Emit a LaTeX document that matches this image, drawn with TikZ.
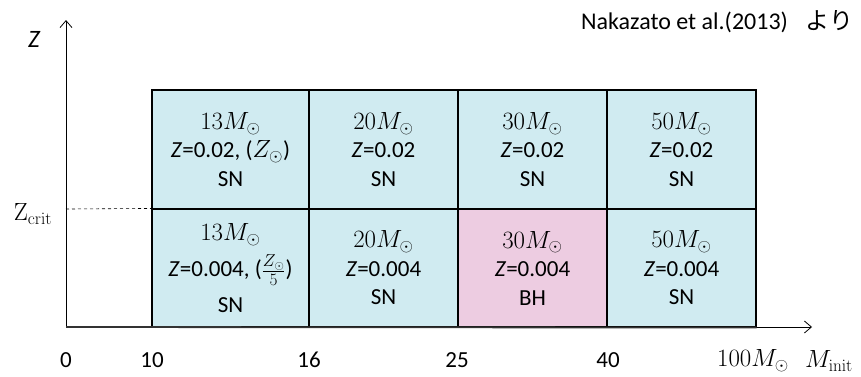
\documentclass[tikz,border=0pt]{standalone}
\usepackage[no-math]{fontspec}
\setmainfont{Carlito}
\newfontfamily\jpfont{Noto Sans CJK JP}
\usetikzlibrary{arrows.meta}
\definecolor{cellblue}{RGB}{208,235,241}
\definecolor{cellpink}{RGB}{237,204,225}
\tikzset{
  cell/.style={draw=black, line width=1.1pt, inner sep=0pt, align=center,
    font=\fontsize{23}{28.5}\selectfont},
  axisline/.style={line width=0.8pt, -{Straight Barb[length=7pt,width=12pt]}},
  ticklabel/.style={font=\fontsize{23}{26}\selectfont, anchor=center},
}
\newcommand{\msun}[1]{$#1M_{\odot}$}
\newcommand{\zval}[1]{\textit{Z}=#1}
\begin{document}
\begin{tikzpicture}[x=1pt,y=-1pt]
  \useasboundingbox (0,0) rectangle (861,376);

  % axes
  \coordinate (O) at (66,327);
  \coordinate (ytip) at (66,20);
  \coordinate (xtip) at (812,327);
  \coordinate (zc) at (66,209);

  % upper row (Z = 0.02)
  \node[cell, fill=cellblue, minimum width=157pt, minimum height=119pt] (c11) at (230.5,149.5)
    {\msun{13}\\ \zval{0.02}, ($Z_{\odot}$)\\ SN};
  \node[cell, fill=cellblue, minimum width=149pt, minimum height=119pt] (c12) at (383.5,149.5)
    {\msun{20}\\ \zval{0.02}\\ SN};
  \node[cell, fill=cellblue, minimum width=149pt, minimum height=119pt] (c13) at (532.5,149.5)
    {\msun{30}\\ \zval{0.02}\\ SN};
  \node[cell, fill=cellblue, minimum width=149pt, minimum height=119pt] (c14) at (681.5,149.5)
    {\msun{50}\\ \zval{0.02}\\ SN};

  % lower row (Z = 0.004)
  \node[cell, fill=cellblue, minimum width=157pt, minimum height=118pt] (c21) at (230.5,268)
    {\msun{13}\\[8pt] \zval{0.004}, ($\frac{Z_{\odot}}{5}$)\\[7pt] SN};
  \node[cell, fill=cellblue, minimum width=149pt, minimum height=118pt] (c22) at (383.5,268)
    {\msun{20}\\ \zval{0.004}\\ SN};
  \node[cell, fill=cellpink, minimum width=149pt, minimum height=118pt] (c23) at (532.5,268)
    {\msun{30}\\ \zval{0.004}\\ BH};
  \node[cell, fill=cellblue, minimum width=149pt, minimum height=118pt] (c24) at (681.5,268)
    {\msun{50}\\ \zval{0.004}\\ SN};

  \draw[axisline] (O) -- (ytip);
  \draw[axisline] (O) -- (xtip);
  \draw[line width=1.8pt, black!80] (O) -- (c24.south east);
  \draw[dashed, line width=0.6pt] (zc) -- (c21.north west);

  % axis labels
  \node[font=\fontsize{25}{28}\selectfont\itshape] (zlab) at (34,39) {Z};
  \node[font=\fontsize{23}{26}\selectfont] (zcrit) at (33,214) {$\mathrm{Z}_{\mathrm{crit}}$};

  \node[ticklabel] (t0) at (66,360) {0};
  \node[ticklabel] (t10) at (152,360) {10};
  \node[ticklabel] (t16) at (309,360) {16};
  \node[ticklabel] (t25) at (457,360) {25};
  \node[ticklabel] (t40) at (608,360) {40};
  \node[ticklabel] (t100) at (753,361) {\msun{100}};
  \node[ticklabel] (tmi) at (829,361) {$M_{\mathrm{init}}$};

  % source note
  \node[font=\fontsize{24}{27}\selectfont, anchor=east] (src) at (857,22)
    {Nakazato et al.(2013)\hspace{18pt}{\jpfont より}};
\end{tikzpicture}
\end{document}
